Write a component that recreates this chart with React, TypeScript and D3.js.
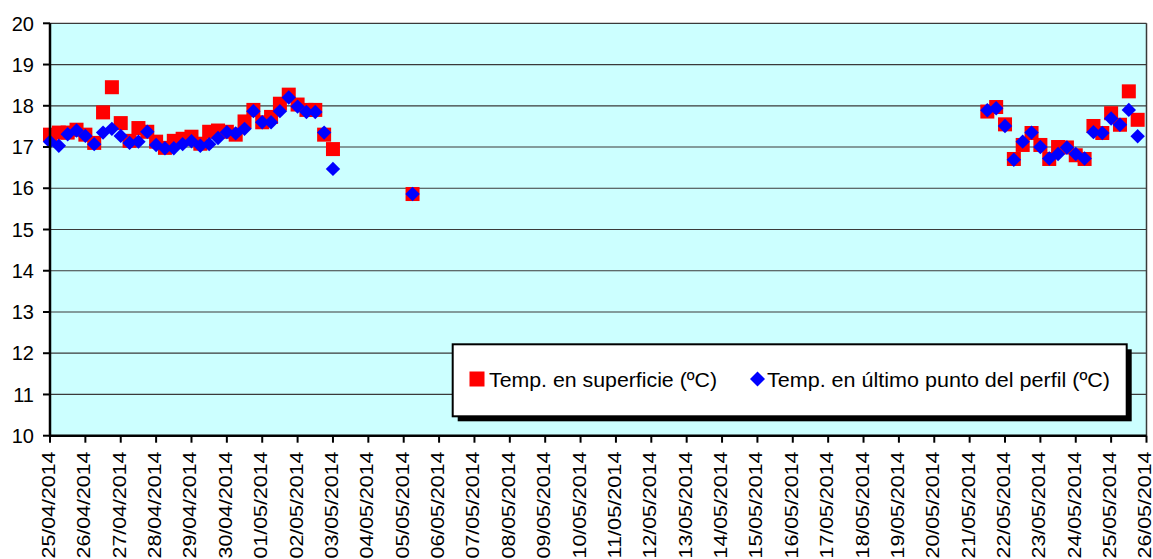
import React from "react";
import * as d3 from "d3";

const times: string[] = [
  "2014-04-25 00:00", "2014-04-25 06:00", "2014-04-25 12:00", "2014-04-25 18:00",
  "2014-04-26 00:00", "2014-04-26 06:00", "2014-04-26 12:00", "2014-04-26 18:00",
  "2014-04-27 00:00", "2014-04-27 06:00", "2014-04-27 12:00", "2014-04-27 18:00",
  "2014-04-28 00:00", "2014-04-28 06:00", "2014-04-28 12:00", "2014-04-28 18:00",
  "2014-04-29 00:00", "2014-04-29 06:00", "2014-04-29 12:00", "2014-04-29 18:00",
  "2014-04-30 00:00", "2014-04-30 06:00", "2014-04-30 12:00", "2014-04-30 18:00",
  "2014-05-01 00:00", "2014-05-01 06:00", "2014-05-01 12:00", "2014-05-01 18:00",
  "2014-05-02 00:00", "2014-05-02 06:00", "2014-05-02 12:00", "2014-05-02 18:00",
  "2014-05-03 00:00",
  "2014-05-05 06:00",
  "2014-05-21 12:00", "2014-05-21 18:00",
  "2014-05-22 00:00", "2014-05-22 06:00", "2014-05-22 12:00", "2014-05-22 18:00",
  "2014-05-23 00:00", "2014-05-23 06:00", "2014-05-23 12:00", "2014-05-23 18:00",
  "2014-05-24 00:00", "2014-05-24 06:00", "2014-05-24 12:00", "2014-05-24 18:00",
  "2014-05-25 00:00", "2014-05-25 06:00", "2014-05-25 12:00", "2014-05-25 18:00",
];

const surfaceTemp: number[] = [
  17.30, 17.35, 17.35, 17.42, 17.30, 17.10, 17.84, 18.45,
  17.58, 17.15, 17.46, 17.37, 17.13, 16.98, 17.15, 17.20,
  17.25, 17.08, 17.37, 17.40, 17.37, 17.30, 17.62, 17.90,
  17.60, 17.73, 18.05, 18.27, 18.03, 17.90, 17.90, 17.30,
  16.95,
  15.86,
  17.86, 17.97,
  17.55, 16.71, 17.05, 17.34, 17.05, 16.71, 17.00, 16.99,
  16.80, 16.71, 17.51, 17.34, 17.82, 17.54, 18.35, 17.66,
];

const bottomTemp: number[] = [
  17.13, 17.03, 17.31, 17.40, 17.27, 17.07, 17.35, 17.44,
  17.27, 17.10, 17.13, 17.37, 17.05, 16.97, 16.97, 17.07,
  17.14, 17.03, 17.07, 17.22, 17.36, 17.33, 17.44, 17.87,
  17.60, 17.60, 17.87, 18.20, 17.98, 17.85, 17.85, 17.35,
  16.47,
  15.86,
  17.89, 17.94,
  17.51, 16.69, 17.13, 17.35, 17.00, 16.72, 16.83, 16.99,
  16.83, 16.72, 17.36, 17.34, 17.69, 17.54, 17.90, 17.26,
];

const yTicks: number[] = [10, 11, 12, 13, 14, 15, 16, 17, 18, 19, 20];
const xStart = "2014-04-25 00:00";
const xEnd = "2014-05-26 00:00";
const legendLabels: string[] = [
  "Temp. en superficie (ºC)",
  "Temp. en último punto del perfil (ºC)",
];

const W = 1153;
const H = 559;
const left = 50;
const right = 1146.5;
const top = 23.3;
const bottom = 435.7;
const FONT = "'Liberation Sans', Arial, sans-serif";

export default function App() {
  const parse = d3.timeParse("%Y-%m-%d %H:%M");
  const fmt = d3.timeFormat("%d/%m/%Y");
  const t0 = parse(xStart)!;
  const t1 = parse(xEnd)!;
  const x = d3.scaleTime().domain([t0, t1]).range([left, right]);
  const y = d3.scaleLinear().domain([10, 20]).range([bottom, top]);
  const dates = times.map((s) => parse(s)!);
  const dayTicks = d3.timeDay.range(t0, d3.timeDay.offset(t1, 1));

  const sq = 14;
  const dm = 7.2;
  const diamond = (cx: number, cy: number, r: number) =>
    `M${cx},${cy - r}L${cx + r},${cy}L${cx},${cy + r}L${cx - r},${cy}Z`;

  const lgX = 452.7, lgY = 344.3, lgW = 674, lgH = 72;

  return (
    <svg
      width={W}
      height={H}
      style={{ position: "absolute", left: 0, top: 0, background: "#fff" }}
      fontFamily={FONT}
    >
      <rect x={left} y={top} width={right - left} height={bottom - top} fill="#CCFFFF" />
      {yTicks.map((v) => (
        <line key={"g" + v} x1={left} x2={right} y1={y(v)} y2={y(v)} stroke="#3a3a3a" strokeWidth={1.2} />
      ))}
      <line x1={right} x2={right} y1={top} y2={bottom} stroke="#3a3a3a" strokeWidth={1.5} />

      {dates.map((d, i) => (
        <rect
          key={"s" + i}
          x={x(d) - sq / 2}
          y={y(surfaceTemp[i]) - sq / 2}
          width={sq}
          height={sq}
          fill="#FF0000"
        />
      ))}
      {dates.map((d, i) => (
        <path key={"b" + i} d={diamond(x(d), y(bottomTemp[i]), dm)} fill="#0000FF" />
      ))}

      {/* axes */}
      <line x1={left} x2={left} y1={top} y2={bottom + 1} stroke="#000" strokeWidth={2.5} />
      <line x1={left - 1} x2={right} y1={bottom} y2={bottom} stroke="#000" strokeWidth={2.5} />
      {yTicks.map((v) => (
        <g key={"yt" + v}>
          <line x1={left - 7} x2={left} y1={y(v)} y2={y(v)} stroke="#000" strokeWidth={2} />
          <text x={34} y={y(v)} dy="0.36em" textAnchor="end" fontSize={20} fill="#000">
            {v}
          </text>
        </g>
      ))}
      {dayTicks.map((d, i) => (
        <g key={"xt" + i}>
          <line x1={x(d)} x2={x(d)} y1={bottom} y2={bottom + 7} stroke="#000" strokeWidth={2} />
          <text
            transform={`translate(${x(d) - 1.5},451.5) rotate(-90)`}
            dy="0.35em"
            textAnchor="end"
            fontSize={18.5}
            textLength={107}
            lengthAdjust="spacingAndGlyphs"
            fill="#000"
          >
            {fmt(d)}
          </text>
        </g>
      ))}

      {/* legend */}
      <rect x={lgX + 5} y={lgY + 5} width={lgW} height={lgH} fill="#000" />
      <rect x={lgX} y={lgY} width={lgW} height={lgH} fill="#fff" stroke="#000" strokeWidth={2} />
      <rect x={469.5} y={371.5} width={15} height={15} fill="#FF0000" />
      <text x={489} y={386.5} fontSize={21} textLength={228} lengthAdjust="spacingAndGlyphs" fill="#000">
        {legendLabels[0]}
      </text>
      <path d={diamond(757.5, 379, 7.5)} fill="#0000FF" />
      <text x={767} y={386.5} fontSize={21} textLength={343} lengthAdjust="spacingAndGlyphs" fill="#000">
        {legendLabels[1]}
      </text>
    </svg>
  );
}
